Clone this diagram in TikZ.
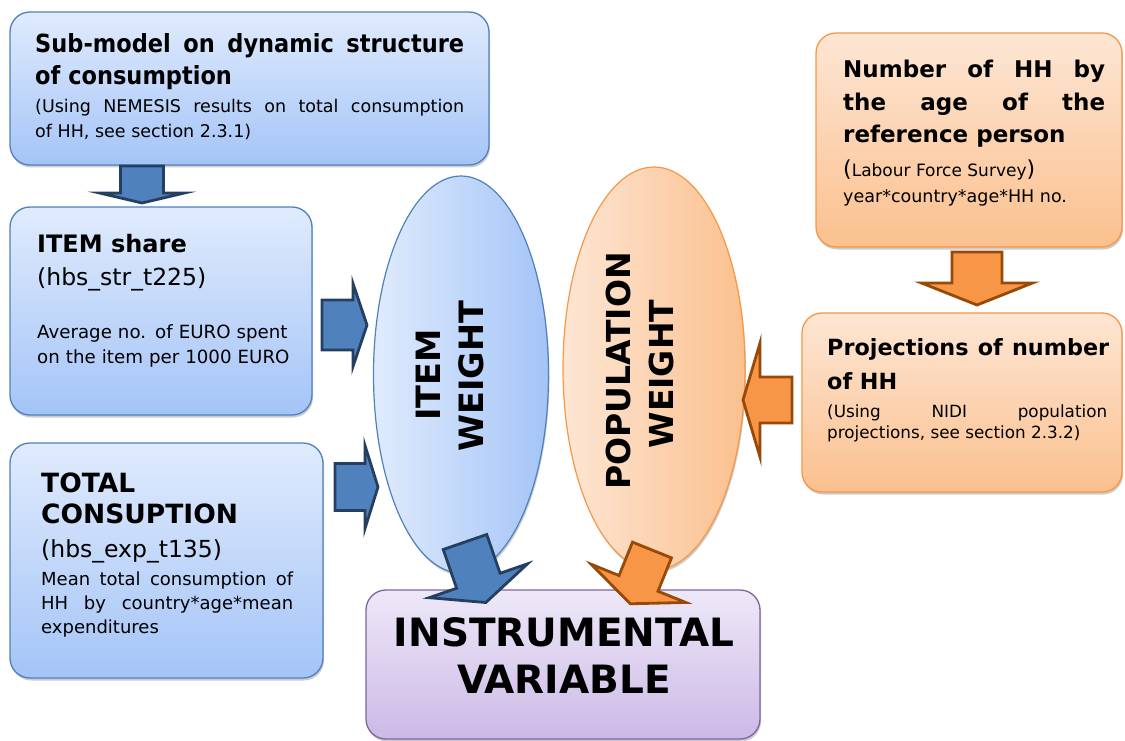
\documentclass[tikz,border=0pt]{standalone}
\usepackage{fontspec}
\setmainfont{DejaVu Sans}
\newfontfamily\narrowfont{DejaVu Sans}[FakeStretch=0.9]
\usetikzlibrary{shapes.geometric,shadows}
\definecolor{BlueTop}{HTML}{E0EBFD}
\definecolor{BlueBot}{HTML}{A4C4F7}
\definecolor{BlueLine}{HTML}{4F81BD}
\definecolor{OrTop}{HTML}{FDE6D4}
\definecolor{OrBot}{HTML}{FBC08E}
\definecolor{OrLine}{HTML}{F79646}
\definecolor{PuTop}{HTML}{EEE8F8}
\definecolor{PuBot}{HTML}{CCB9E6}
\definecolor{PuLine}{HTML}{8064A2}
\definecolor{ArrBlue}{HTML}{4F81BD}
\definecolor{ArrBlueLine}{HTML}{243F60}
\definecolor{ArrOr}{HTML}{F79646}
\definecolor{ArrOrLine}{HTML}{984807}
\tikzset{
  shade/.style={drop shadow={shadow xshift=1pt,shadow yshift=-2.5pt,opacity=0.4}},
  boxbase/.style={rectangle, rounded corners=20pt, line width=1.3pt, inner sep=0pt, shade},
  bluebox/.style={boxbase, draw=BlueLine, top color=BlueTop, bottom color=BlueBot},
  orbox/.style={boxbase, draw=OrLine, top color=OrTop, bottom color=OrBot},
  pubox/.style={boxbase, draw=PuLine, top color=PuTop, bottom color=PuBot},
  ellbase/.style={ellipse, line width=1.2pt, inner sep=0pt, shade},
  blueell/.style={ellbase, draw=BlueLine, left color=BlueTop, right color=BlueBot},
  orell/.style={ellbase, draw=OrLine, left color=OrTop, right color=OrBot},
  txt/.style={inner sep=0pt, anchor=base west, align=justify},
  rtxt/.style={inner sep=0pt, anchor=base, rotate=90},
  bluearrow/.style={fill=ArrBlue, draw=ArrBlueLine, line width=2.8pt, line join=miter},
  orarrow/.style={fill=ArrOr, draw=ArrOrLine, line width=2.8pt, line join=miter},
}
% #1,#2 start, #3 angle, #4 shaft half width, #5 shaft length, #6 head half width, #7 head length, #8 style
\newcommand\myblockarrow[8]{%
  \begin{scope}[shift={(#1,#2)}, rotate=#3]
    \draw[#8] (0,-#4) -- (#5,-#4) -- (#5,-#6) -- ({#5+#7},0) -- (#5,#6) -- (#5,#4) -- (0,#4) -- cycle;
  \end{scope}}
\begin{document}
\begin{tikzpicture}[x=1pt,y=-1pt]
\useasboundingbox (0,0) rectangle (1125,741);
% boxes
\node[bluebox, minimum width=479pt, minimum height=153pt] (submodel) at (249.5,88.5) {};
\node[bluebox, minimum width=302pt, minimum height=208pt] (itemshare) at (161,311) {};
\node[bluebox, minimum width=313pt, minimum height=235pt] (totalcons) at (166.5,560.5) {};
\node[orbox, minimum width=306pt, minimum height=214pt] (numberhh) at (969,140) {};
\node[orbox, minimum width=320pt, minimum height=179pt] (projhh) at (962,402.5) {};
\node[pubox, minimum width=394pt, minimum height=149pt] (instr) at (563,664.5) {};
% ellipses
\node[blueell, minimum width=175pt, minimum height=397pt] (itemw) at (461,374.5) {};
\node[orell, minimum width=182pt, minimum height=403pt] (popw) at (654,368.5) {};
% block arrows
\myblockarrow{142}{166}{-90}{21.5}{27}{42.5}{10}{bluearrow}
\myblockarrow{322}{325}{0}{25}{31}{41.5}{14}{bluearrow}
\myblockarrow{335}{487}{0}{23.5}{30}{41.5}{13}{bluearrow}
\myblockarrow{465}{542}{-71}{23}{41}{52}{23}{bluearrow}
\myblockarrow{652}{550}{-112}{21}{36}{51}{22}{orarrow}
\myblockarrow{977}{252}{-90}{25}{31}{55.5}{22}{orarrow}
\myblockarrow{792}{400}{180}{23}{32}{57}{17}{orarrow}
% texts box 1
\node[txt, text width=429pt, font=\narrowfont\bfseries\fontsize{25}{32}\selectfont] (t1a) at (35,53)
  {Sub-model on dynamic structure\linebreak of consumption};
\node[txt, text width=429pt, font=\fontsize{17.5}{25}\selectfont] (t1b) at (35,113)
  {(Using NEMESIS results on total consumption\linebreak of HH, see section 2.3.1)};
% box 2
\node[txt, font=\bfseries\fontsize{24}{30}\selectfont] (t2a) at (37,252) {ITEM share};
\node[txt, font=\fontsize{23.5}{30}\selectfont] (t2b) at (37,285) {(hbs\_str\_t225)};
\node[txt, text width=265pt, align=left, font=\fontsize{18.2}{25}\selectfont] (t2c) at (37,338)
  {Average no. of EURO spent\\on the item per 1000 EURO};
% box 3
\node[txt, text width=260pt, align=left, font=\bfseries\fontsize{26.5}{31}\selectfont] (t3a) at (41,492)
  {TOTAL\\CONSUPTION};
\node[txt, font=\fontsize{23.5}{30}\selectfont] (t3b) at (41,557) {(hbs\_exp\_t135)};
\node[txt, text width=252pt, font=\fontsize{18}{24}\selectfont] (t3c) at (41,585)
  {Mean total consumption of\linebreak HH by country*age*mean\linebreak expenditures};
% box 4
\node[txt, text width=262pt, font=\bfseries\fontsize{23}{32.5}\selectfont] (t4a) at (843,78)
  {Number of HH by\linebreak the age of the\linebreak reference person};
\node[txt, font=\fontsize{17}{22}\selectfont] (t4b) at (843,177)
  {{\fontsize{22}{22}\selectfont(}Labour Force Survey{\fontsize{22}{22}\selectfont)}};
\node[txt, font=\fontsize{17.5}{22}\selectfont] (t4c) at (843,202) {year*country*age*HH no.};
% box 5
\node[txt, text width=282pt, font=\bfseries\fontsize{22.3}{34}\selectfont] (t5a) at (827,355)
  {Projections of number\linebreak of HH};
\node[txt, text width=280pt, font=\fontsize{16.8}{21}\selectfont] (t5b) at (827,417)
  {(Using NIDI population\linebreak projections, see section 2.3.2)};
% box 6
\node[inner sep=0pt, anchor=base, font=\bfseries\fontsize{39}{47}\selectfont] (t6a) at (564,646) {INSTRUMENTAL};
\node[inner sep=0pt, anchor=base, font=\bfseries\fontsize{39}{47}\selectfont] (t6b) at (564,693) {VARIABLE};
% ellipse texts
\node[rtxt, font=\bfseries\fontsize{33.5}{40}\selectfont] (e1a) at (440,375) {ITEM};
\node[rtxt, font=\bfseries\fontsize{33.5}{40}\selectfont] (e1b) at (483,376) {WEIGHT};
\node[rtxt, font=\bfseries\fontsize{33}{40}\selectfont] (e2a) at (630,371) {POPULATION};
\node[rtxt, font=\bfseries\fontsize{33}{40}\selectfont] (e2b) at (673,374) {WEIGHT};
\end{tikzpicture}
\end{document}
